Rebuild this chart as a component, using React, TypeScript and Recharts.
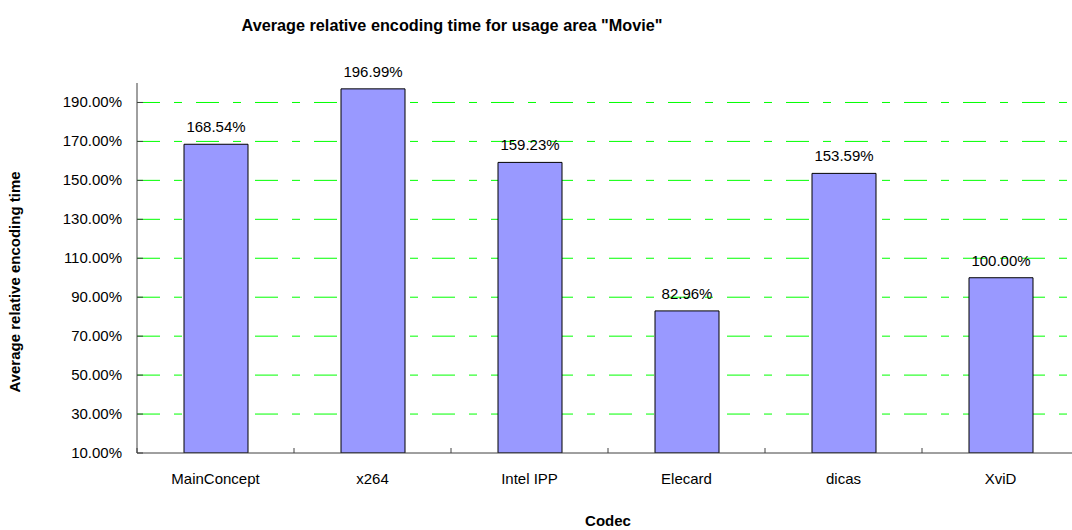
import * as React from 'react';
import {
  BarChart,
  Bar,
  XAxis,
  YAxis,
  CartesianGrid,
  LabelList,
} from 'recharts';

const codecs = ['MainConcept', 'x264', 'Intel IPP', 'Elecard', 'dicas', 'XviD'];
const encodingTime = [168.54, 196.99, 159.23, 82.96, 153.59, 100.0];
const yTicks = [10, 30, 50, 70, 90, 110, 130, 150, 170, 190];
const gridValues = [30, 50, 70, 90, 110, 130, 150, 170, 190];

const FONT = '"Liberation Sans", Arial, sans-serif';

const chartData = codecs.map((name, i) => ({ name, value: encodingTime[i] }));

const pct = (v: number) => `${v.toFixed(2)}%`;

const XTick = (props: any) => {
  const { x, y, payload } = props;
  const half = payload && payload.offset ? payload.offset : 0;
  return (
    <g>
      <line x1={x - half} y1={y - 5} x2={x - half} y2={y} stroke="#404040" />
      <text x={x} y={y + 31} textAnchor="middle" fontSize={15} fontFamily={FONT} fill="#000">
        {payload.value}
      </text>
    </g>
  );
};

const YTick = (props: any) => {
  const { x, y, payload } = props;
  return (
    <g>
      <line x1={x} y1={y} x2={x + 6} y2={y} stroke="#404040" />
      <text x={x - 15} y={y + 5} textAnchor="end" fontSize={15} fontFamily={FONT} fill="#000">
        {pct(payload.value)}
      </text>
    </g>
  );
};

export default function App() {
  return (
    <div style={{ position: 'absolute', left: 0, top: 0, width: 1072, height: 530, overflow: 'hidden', background: '#fff' }}>
      <svg width={1072} height={530} style={{ position: 'absolute', left: 0, top: 0, pointerEvents: 'none', zIndex: 1 }}>
        <text
          x={452}
          y={31}
          textAnchor="middle"
          fontSize={17}
          fontWeight="bold"
          fontFamily={FONT}
          textLength={421}
          lengthAdjust="spacingAndGlyphs"
        >
          Average relative encoding time  for usage area "Movie"
        </text>
        <text
          transform="translate(20, 282) rotate(-90)"
          textAnchor="middle"
          fontSize={15}
          fontWeight="bold"
          fontFamily={FONT}
        >
          Average relative encoding time
        </text>
        <text x={608} y={526} textAnchor="middle" fontSize={15} fontWeight="bold" fontFamily={FONT}>
          Codec
        </text>
      </svg>
      <BarChart
        width={1079}
        height={530}
        data={chartData}
        margin={{ top: 83, right: 0, bottom: 27, left: 0 }}
        style={{ position: 'absolute', left: 0, top: 0 }}
      >
        <CartesianGrid
          vertical={false}
          horizontalValues={gridValues}
          stroke="#00ff00"
          strokeDasharray="23 14 8 14"
        />
        <XAxis
          dataKey="name"
          height={50}
          tickSize={0}
          tickMargin={0}
          tick={<XTick />}
          axisLine={{ stroke: '#404040' }}
          interval={0}
        />
        <YAxis
          width={137}
          domain={[10, 200]}
          ticks={yTicks}
          allowDataOverflow
          tickSize={0}
          tickMargin={0}
          tick={<YTick />}
          axisLine={{ stroke: '#404040' }}
        />
        <Bar dataKey="value" fill="#9999ff" stroke="#000" strokeWidth={1} barSize={64} isAnimationActive={false}>
          <LabelList
            dataKey="value"
            position="top"
            offset={12}
            formatter={(v: any) => pct(Number(v))}
            style={{ fontSize: 15, fontFamily: FONT, fill: '#000' }}
          />
        </Bar>
      </BarChart>
    </div>
  );
}
